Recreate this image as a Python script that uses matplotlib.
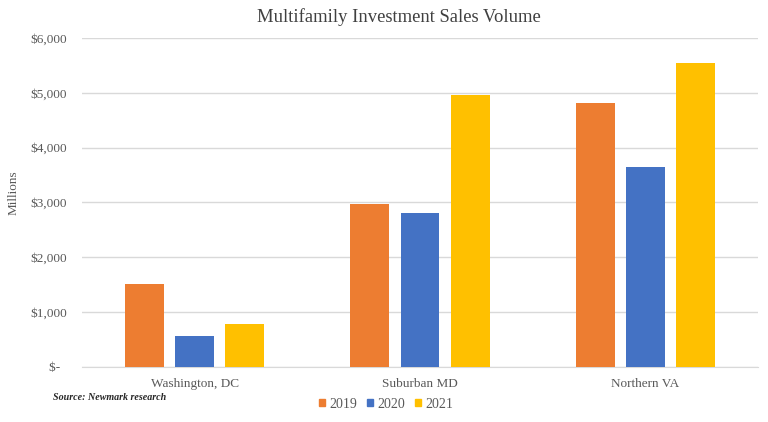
import matplotlib
matplotlib.use("Agg")
import matplotlib.pyplot as plt
import numpy as np
from matplotlib.ticker import FuncFormatter
from matplotlib.patches import Patch

categories = ["Washington, DC", "Suburban MD", "Northern VA"]
years = ["2019", "2020", "2021"]
v2019 = [1510, 2975, 4815]
v2020 = [555, 2815, 3640]
v2021 = [788, 4968, 5548]
colors = ["#ED7D31", "#4472C4", "#FFC000"]
yticks = [0, 1000, 2000, 3000, 4000, 5000, 6000]

plt.rcParams['font.family'] = ['Liberation Serif', 'DejaVu Serif']
text_color = "#595959"

fig = plt.figure(figsize=(7.68, 4.22), dpi=100)
ax = fig.add_axes([82/768, 1 - 366.8/422, (758-82)/768, (366.8-38)/422])

x = np.arange(len(categories))
width = 0.173
step = 0.222
series = [v2019, v2020, v2021]
for i, (vals, c) in enumerate(zip(series, colors)):
    ax.bar(x + (i - 1) * step, vals, width=width, color=c, zorder=3)

ax.set_xlim(-0.5, 2.5)
ax.set_ylim(0, 6000)
ax.set_yticks(yticks)
ax.yaxis.set_major_formatter(FuncFormatter(lambda v, p: "$-  " if v == 0 else "${:,.0f}".format(v)))
ax.set_xticks(x)
ax.set_xticklabels(categories)
ax.tick_params(axis='both', length=0, labelsize=9.5, colors=text_color)
ax.tick_params(axis='y', pad=11)
ax.tick_params(axis='x', pad=8)
ax.grid(axis='y', color="#D9D9D9", linewidth=1, zorder=0)
for s in ["top", "right", "left"]:
    ax.spines[s].set_visible(False)
ax.spines["bottom"].set_color("#D9D9D9")

fig.text(399/768, 1 - 17/422, "Multifamily Investment Sales Volume", ha='center', va='center',
         fontsize=13.4, color="#404040")
fig.text(14/768, 1 - 193/422, "Millions", rotation=90, ha='center', va='center',
         fontsize=9.5, color=text_color)
fig.text(53/768, 1 - 398/422, "Source: Newmark research", ha='left', va='center',
         fontsize=7.2, style='italic', fontweight='bold', color="#262626")

handles = [Patch(color=c, label=y) for c, y in zip(colors, years)]
fig.legend(handles=handles, loc='center', bbox_to_anchor=(386/768, 1 - 404/422), ncol=3,
           frameon=False, fontsize=10, handlelength=0.45, handleheight=0.45,
           handletextpad=0.3, columnspacing=0.7, labelcolor=text_color)

fig.savefig("out.png", dpi=100)
